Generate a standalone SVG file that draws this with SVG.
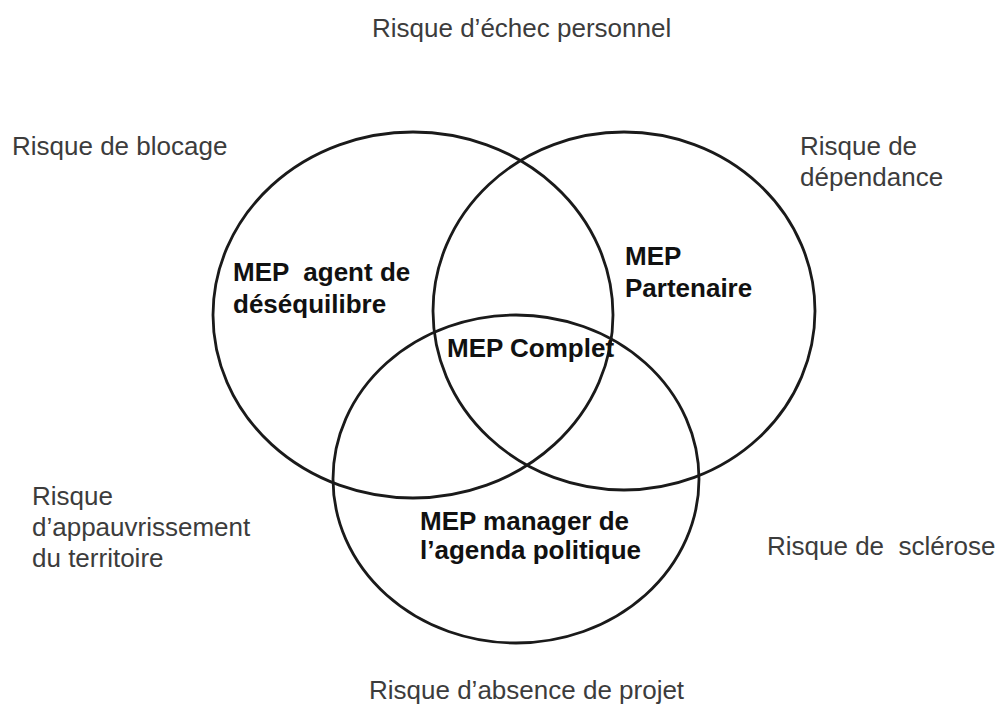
<svg xmlns="http://www.w3.org/2000/svg" width="1007" height="704" viewBox="0 0 1007 704">
<style>
.c{fill:none;stroke:#1a1a1a;stroke-width:2.8}
.r{font-family:"Liberation Sans",Arial,sans-serif;font-size:26px;fill:#3c3c3c}
.b{font-family:"Liberation Sans",Arial,sans-serif;font-size:26px;font-weight:bold;fill:#111}
</style>
<rect width="1007" height="704" fill="#fff"/>
<g id="circles">
<ellipse id="c-left" class="c" cx="413" cy="315" rx="200" ry="183"/>
<ellipse id="c-right" class="c" cx="624" cy="311" rx="191" ry="179"/>
<ellipse id="c-bottom" class="c" cx="516" cy="479" rx="183" ry="164"/>
</g>
<g id="risks">
<text class="r" x="372" y="37">Risque d’échec personnel</text>
<text class="r" x="12" y="155">Risque de blocage</text>
<text class="r" x="800" y="155">Risque de</text>
<text class="r" x="800" y="186">dépendance</text>
<text class="r" x="32" y="505">Risque</text>
<text class="r" x="32" y="536">d’appauvrissement</text>
<text class="r" x="32" y="567">du territoire</text>
<text class="r" x="767" y="555" xml:space="preserve">Risque de  sclérose</text>
<text class="r" x="369" y="699">Risque d’absence de projet</text>
</g>
<g id="roles">
<text class="b" x="233" y="281" xml:space="preserve">MEP  agent de</text>
<text class="b" x="233" y="313">déséquilibre</text>
<text class="b" x="625" y="265">MEP</text>
<text class="b" x="625" y="297">Partenaire</text>
<text class="b" x="447" y="357">MEP Complet</text>
<text class="b" x="420" y="530">MEP manager de</text>
<text class="b" x="420" y="559">l’agenda politique</text>
</g>
</svg>
